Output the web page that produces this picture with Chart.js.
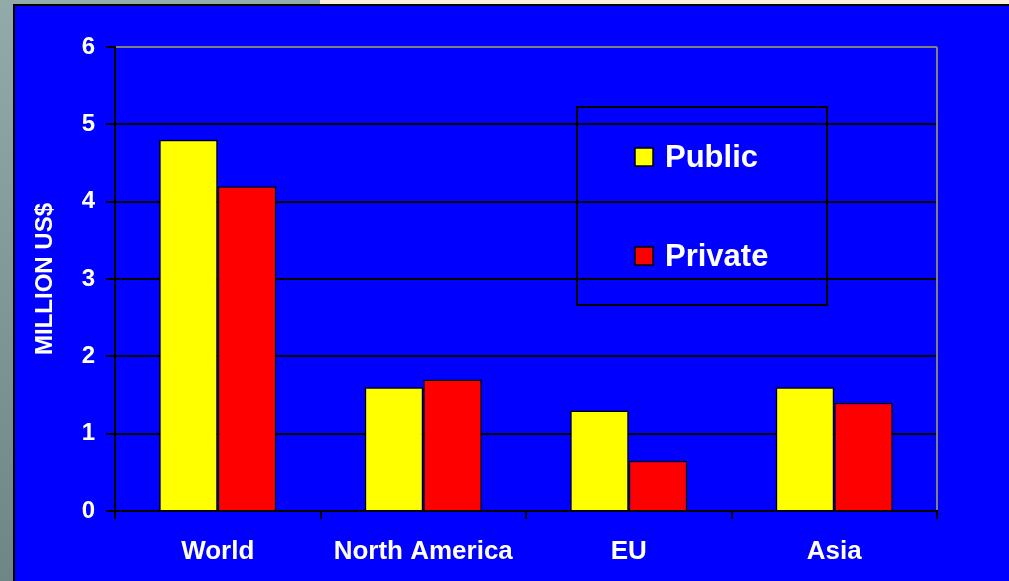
<!DOCTYPE html>
<html>
<head>
<meta charset="utf-8">
<style>
  html, body { margin: 0; padding: 0; background: #0000FF; overflow: hidden; }
  canvas { display: block; }
</style>
<script src="https://cdn.jsdelivr.net/npm/chart.js@4/dist/chart.umd.min.js"></script>
</head>
<body>
<canvas id="c" width="1009" height="581"></canvas>
<script>
const categories = ['World', 'North America', 'EU', 'Asia'];
const publicValues = [4.8, 1.6, 1.3, 1.6];
const privateValues = [4.2, 1.7, 0.65, 1.4];
const seriesNames = ['Public', 'Private'];
const yTicks = [0, 1, 2, 3, 4, 5, 6];
const yTitle = 'MILLION US$';

const FONT = '"Liberation Sans", Arial, sans-serif';

const backgroundPlugin = {
  id: 'bg',
  beforeDraw(chart) {
    const ctx = chart.ctx;
    const W = chart.width, H = chart.height;
    ctx.save();
    const g = ctx.createLinearGradient(0, 0, 0, H);
    g.addColorStop(0, '#93AAAA');
    g.addColorStop(1, '#6E8686');
    ctx.fillStyle = g;
    ctx.fillRect(0, 0, W, H);
    ctx.fillStyle = '#F7EEDC';
    ctx.fillRect(320, 0, W - 320, 5);
    ctx.fillStyle = '#000000';
    ctx.fillRect(13, 4, W - 13, H - 4);
    ctx.fillStyle = '#0000FF';
    ctx.fillRect(15, 6, W - 15, H - 6);
    ctx.restore();
  },
  afterDatasetsDraw(chart) {
    const ctx = chart.ctx;
    const a = chart.chartArea;
    ctx.save();
    ctx.strokeStyle = '#808080';
    ctx.lineWidth = 2;
    ctx.beginPath();
    ctx.moveTo(a.right, a.top);
    ctx.lineTo(a.right, a.bottom - 1);
    ctx.stroke();
    ctx.restore();
  }
};

const boxLegendPlugin = {
  id: 'boxLegend',
  afterDraw(chart) {
    const ctx = chart.ctx;
    ctx.save();
    ctx.strokeStyle = '#000000';
    ctx.lineWidth = 2;
    ctx.strokeRect(577, 107, 250, 198);
    const rows = [157, 256];
    chart.data.datasets.forEach((ds, i) => {
      const cy = rows[i];
      ctx.fillStyle = ds.backgroundColor;
      ctx.fillRect(635, cy - 9, 18, 18);
      ctx.lineWidth = 1.5;
      ctx.strokeStyle = '#000000';
      ctx.strokeRect(635, cy - 9, 18, 18);
      ctx.fillStyle = '#FFFFFF';
      ctx.font = 'bold 31px ' + FONT;
      ctx.textBaseline = 'middle';
      ctx.textAlign = 'left';
      ctx.fillText(ds.label, 665, cy + 1);
    });
    ctx.restore();
  }
};

new Chart(document.getElementById('c'), {
  type: 'bar',
  data: {
    labels: categories,
    datasets: [
      { label: seriesNames[0], data: publicValues, backgroundColor: '#FFFF00', borderColor: '#000000', borderWidth: 1.5 },
      { label: seriesNames[1], data: privateValues, backgroundColor: '#FF0000', borderColor: '#000000', borderWidth: 1.5 }
    ]
  },
  options: {
    responsive: false,
    animation: false,
    devicePixelRatio: 1,
    categoryPercentage: 0.57,
    barPercentage: 1.0,
    layout: { padding: { left: 0, top: 47, right: 72, bottom: 0 } },
    plugins: {
      legend: { display: false },
      tooltip: { enabled: false },
      title: { display: false }
    },
    scales: {
      x: {
        offset: true,
        grid: {
          offset: true,
          drawOnChartArea: false,
          drawTicks: true,
          tickLength: 8,
          color: '#000000',
          tickColor: '#000000',
          lineWidth: 2
        },
        border: { color: '#000000', width: 2 },
        ticks: {
          color: '#FFFFFF',
          font: { family: FONT, size: 26, weight: 'bold' },
          padding: 17,
          maxRotation: 0
        },
        afterFit(scale) { scale.height = 70; }
      },
      y: {
        min: 0,
        max: 6,
        afterBuildTicks(scale) { scale.ticks = yTicks.map(v => ({ value: v })); },
        grid: {
          color: (c) => (c.tick && c.tick.value === 6) ? '#808080' : '#000000',
          tickColor: '#000000',
          lineWidth: 2,
          tickLength: 9,
          drawTicks: true
        },
        border: { color: '#000000', width: 2 },
        ticks: {
          color: '#FFFFFF',
          font: { family: FONT, size: 24, weight: 'bold' },
          padding: 11,
          stepSize: 1
        },
        title: {
          display: true,
          text: yTitle,
          color: '#FFFFFF',
          font: { family: FONT, size: 24, weight: 'bold' },
          padding: { top: 31, bottom: 0 }
        },
        afterFit(scale) { scale.width = 115; }
      }
    }
  },
  plugins: [backgroundPlugin, boxLegendPlugin]
});
</script>
</body>
</html>
